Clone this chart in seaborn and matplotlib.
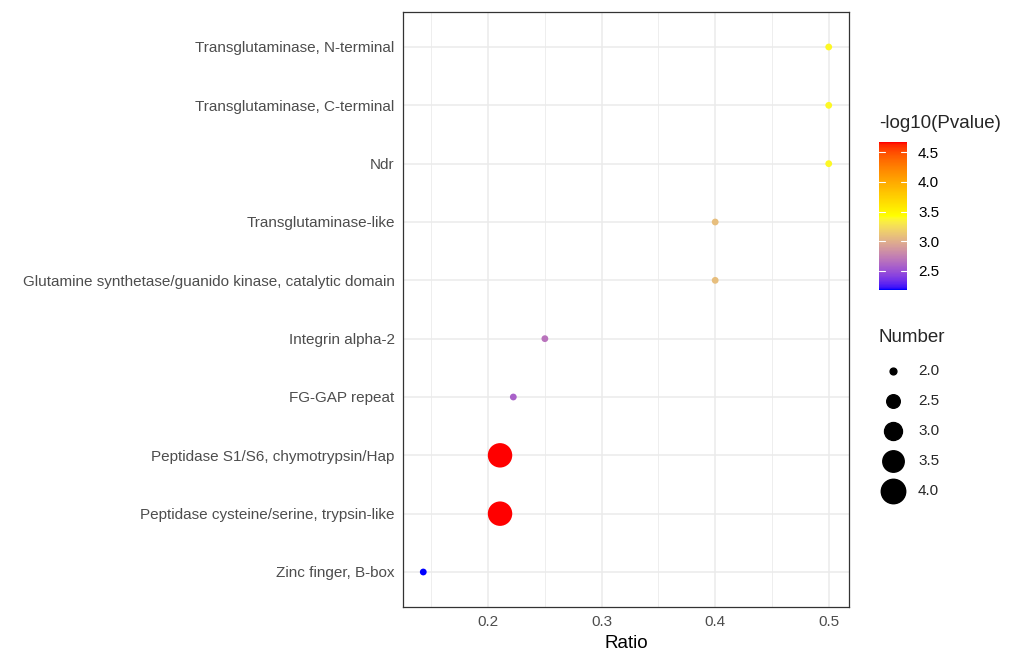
import numpy as np
import pandas as pd
import matplotlib
matplotlib.use("Agg")
import matplotlib.pyplot as plt
from matplotlib.colors import LinearSegmentedColormap, Normalize
from matplotlib.lines import Line2D
import seaborn as sns

terms = [
    "Transglutaminase, N-terminal",
    "Transglutaminase, C-terminal",
    "Ndr",
    "Transglutaminase-like",
    "Glutamine synthetase/guanido kinase, catalytic domain",
    "Integrin alpha-2",
    "FG-GAP repeat",
    "Peptidase S1/S6, chymotrypsin/Hap",
    "Peptidase cysteine/serine, trypsin-like",
    "Zinc finger, B-box",
]
ratio = [0.5, 0.5, 0.5, 0.4, 0.4, 0.25, 0.2222, 0.2105, 0.2105, 0.1429]
neglogp = [3.39, 3.39, 3.39, 3.08, 3.08, 2.68, 2.58, 4.67, 4.67, 2.18]
number = [2, 2, 2, 2, 2, 2, 2, 4, 4, 2]
xticks = [0.2, 0.3, 0.4, 0.5]
cbar_ticks = [2.5, 3.0, 3.5, 4.0, 4.5]
size_ticks = [2.0, 2.5, 3.0, 3.5, 4.0]

df = pd.DataFrame({"Term": terms, "Ratio": ratio, "P": neglogp, "Number": number})

# Lab-space interpolation blue -> yellow -> red (like ggplot gradientn)
def srgb_to_lab(c):
    c = np.asarray(c, float)
    lin = np.where(c <= 0.04045, c / 12.92, ((c + 0.055) / 1.055) ** 2.4)
    M = np.array([[0.4124, 0.3576, 0.1805], [0.2126, 0.7152, 0.0722], [0.0193, 0.1192, 0.9505]])
    xyz = M @ lin
    wp = np.array([0.95047, 1.0, 1.08883])
    t = xyz / wp
    f = np.where(t > (6 / 29) ** 3, np.cbrt(t), t / (3 * (6 / 29) ** 2) + 4 / 29)
    return np.array([116 * f[1] - 16, 500 * (f[0] - f[1]), 200 * (f[1] - f[2])])

def lab_to_srgb(lab):
    L, a, b = lab
    fy = (L + 16) / 116
    fx = fy + a / 500
    fz = fy - b / 200
    def finv(f):
        return np.where(f > 6 / 29, f ** 3, 3 * (6 / 29) ** 2 * (f - 4 / 29))
    wp = np.array([0.95047, 1.0, 1.08883])
    xyz = np.array([finv(fx), finv(fy), finv(fz)]) * wp
    Minv = np.array([[3.2406, -1.5372, -0.4986], [-0.9689, 1.8758, 0.0415], [0.0557, -0.2040, 1.0570]])
    lin = Minv @ xyz
    lin = np.clip(lin, 0, 1)
    c = np.where(lin <= 0.0031308, 12.92 * lin, 1.055 * lin ** (1 / 2.4) - 0.055)
    return np.clip(c, 0, 1)

anchors = [srgb_to_lab([0, 0, 1]), srgb_to_lab([1, 1, 0]), srgb_to_lab([1, 0, 0])]
cols = []
for t in np.linspace(0, 1, 256):
    if t <= 0.5:
        u = t / 0.5
        lab = anchors[0] * (1 - u) + anchors[1] * u
    else:
        u = (t - 0.5) / 0.5
        lab = anchors[1] * (1 - u) + anchors[2] * u
    cols.append(lab_to_srgb(lab))
cmap = LinearSegmentedColormap.from_list("byr", cols)
vmin, vmax = min(neglogp), max(neglogp)
norm = Normalize(vmin, vmax)

sns.set_style("white")
plt.rcParams["font.family"] = ["Liberation Sans", "DejaVu Sans"]

fig = plt.figure(figsize=(10.11, 6.53), dpi=100)
ax = fig.add_axes([403 / 1011, 1 - 607 / 653, (849 - 403) / 1011, (607 - 12) / 653])

smin, smax = 24, 310
sns.scatterplot(data=df, x="Ratio", y="Term", hue="P", palette=cmap, hue_norm=norm,
                size="Number", sizes=(smin, smax), size_norm=(2, 4),
                legend=False, ax=ax, linewidth=0, zorder=3)

xr = max(ratio) - min(ratio)
ax.set_xlim(min(ratio) - 0.05 * xr, max(ratio) + 0.05 * xr)
ax.set_ylim(len(terms) - 1 + 0.6, -0.6)
ax.set_xticks(xticks)
ax.set_xticks([0.15, 0.25, 0.35, 0.45], minor=True)
ax.grid(True, which="major", color="#EBEBEB", linewidth=1.1)
ax.grid(True, which="minor", axis="x", color="#EBEBEB", linewidth=0.6)
ax.set_axisbelow(True)
for s in ax.spines.values():
    s.set_color("#333333")
    s.set_linewidth(0.9)
ax.tick_params(axis="both", which="major", length=3.5, width=0.9, color="#333333",
               labelcolor="#4D4D4D", labelsize=11, pad=2.5)
ax.tick_params(axis="x", which="minor", length=0)
ax.set_xlabel("Ratio", fontsize=13.5, color="black", labelpad=4)
ax.set_ylabel("")

# colorbar legend
fig.text(879 / 1011, 1 - 124 / 653, "-log10(Pvalue)", fontsize=13.5, va="center", ha="left")
cax = fig.add_axes([879 / 1011, 1 - 290 / 653, 28 / 1011, (290 - 142) / 653])
sm = plt.cm.ScalarMappable(norm=norm, cmap=cmap)
cb = fig.colorbar(sm, cax=cax, ticks=cbar_ticks)
cb.outline.set_visible(False)
cax.tick_params(length=0, labelsize=11, labelcolor="black", pad=8)
for t in cbar_ticks:
    cax.plot([0, 0.2], [t, t], color="white", lw=0.8, transform=cax.get_yaxis_transform())
    cax.plot([0.8, 1.0], [t, t], color="white", lw=0.8, transform=cax.get_yaxis_transform())

# size legend
fig.text(879 / 1011, 1 - 338 / 653, "Number", fontsize=13.5, va="center", ha="left")
ys = [371, 401, 431, 461, 491]
for v, yy in zip(size_ticks, ys):
    area = smin + (v - 2) / 2 * (smax - smin)
    fig.add_artist(Line2D([893 / 1011], [1 - yy / 653], marker="o", markersize=np.sqrt(area),
                          color="black", linestyle="none", transform=fig.transFigure))
    fig.text(918 / 1011, 1 - yy / 653, f"{v:.1f}", fontsize=11, va="center", ha="left")

fig.savefig("out.png", dpi=100)
